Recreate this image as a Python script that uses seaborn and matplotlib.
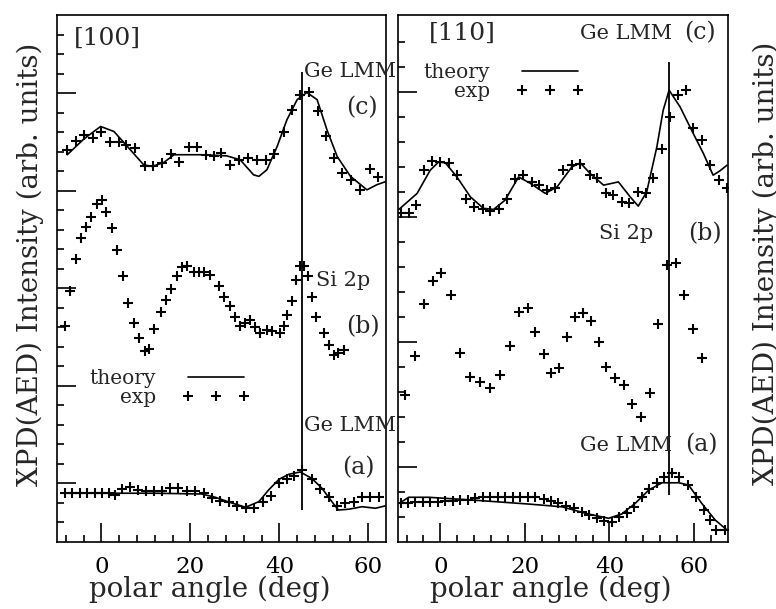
import matplotlib
matplotlib.use("Agg")
import matplotlib.pyplot as plt
import seaborn as sns
from matplotlib.lines import Line2D
from matplotlib.ticker import FixedLocator, NullFormatter

# ---- [100] azimuth (left panel) ----
ang_100_c_exp = [-7.7, -5.8, -4.0, -1.9, -0.1, 2.0, 3.9, 5.6, 7.6, 9.7, 11.6, 13.6, 15.7, 17.5,
                 19.6, 21.5, 23.4, 25.2, 26.9, 29.0, 30.9, 33.0, 35.0, 36.9, 38.9, 41.0, 42.8,
                 44.6, 46.6, 48.6, 50.6, 52.4, 54.2, 56.1, 58.1, 60.3, 62.1]
int_100_c_exp = [20.10, 20.53, 20.87, 20.70, 20.99, 20.48, 20.48, 20.36, 20.19, 19.28, 19.25,
                 19.42, 19.90, 19.47, 20.27, 20.24, 19.85, 19.76, 19.93, 19.30, 19.59, 19.68,
                 19.59, 19.59, 19.90, 21.04, 22.15, 22.92, 23.04, 22.07, 20.79, 19.68, 18.91,
                 18.56, 18.05, 19.11, 18.73]
ang_100_c_th = [-7.7, -4.0, -0.2, 2.8, 6.5, 9.5, 11.4, 14.0, 16.3, 22.2, 28.2, 31.2, 34.2, 35.4,
                37.2, 39.5, 41.7, 44.0, 46.2, 48.5, 50.7, 53.0, 56.0, 59.7, 61.9, 64.0]
int_100_c_th = [19.85, 20.65, 21.30, 21.04, 20.10, 19.33, 19.25, 19.45, 19.85, 19.85, 19.79,
                19.59, 18.82, 18.74, 19.08, 20.27, 21.64, 22.67, 23.04, 22.67, 21.13, 19.76,
                18.74, 18.05, 18.31, 18.48]

ang_100_b_exp = [-8.3, -7.0, -5.8, -4.7, -3.4, -2.4, -1.1, 0.15, 1.1, 2.4, 3.5, 4.9, 6.0, 7.3,
                 8.5, 9.7, 10.6, 11.9, 13.3, 14.4, 15.7, 16.9, 18.1, 19.3, 20.7, 21.9, 23.0,
                 24.5, 26.4, 27.6, 28.8, 30.1, 31.1, 32.2, 33.3, 34.6, 35.7, 37.2, 38.4, 40.1,
                 41.0, 41.7, 42.8, 43.8, 44.7, 45.5, 46.4, 47.3, 48.3, 50.0, 51.1, 52.2, 53.3, 54.5]
int_100_b_exp = [11.08, 12.84, 14.51, 15.57, 16.14, 16.65, 17.32, 17.54, 16.94, 16.09, 14.97,
                 13.61, 12.27, 11.21, 10.45, 9.81, 9.88, 10.91, 11.81, 12.41, 12.96, 13.61,
                 14.12, 14.15, 13.86, 13.86, 13.86, 13.69, 13.13, 12.58, 12.10, 11.52, 11.08,
                 11.21, 11.38, 11.04, 10.70, 10.87, 10.79, 10.70, 11.08, 11.64, 12.36, 13.44,
                 14.17, 14.17, 13.61, 12.58, 11.51, 10.70, 10.10, 9.59, 9.71, 9.85]

ang_100_a_exp = [-8.2, -6.6, -4.9, -3.2, -1.5, 0.15, 1.6, 3.0, 4.6, 6.5, 8.2, 10.0, 11.8, 13.6,
                 15.5, 17.2, 19.3, 21.1, 23.0, 24.9, 26.7, 28.6, 30.5, 32.4, 34.2, 36.3, 38.2,
                 39.9, 41.7, 43.4, 45.1, 47.3, 49.2, 51.1, 52.9, 54.8, 56.7, 58.6, 60.4, 62.3]
int_100_a_exp = [2.53, 2.53, 2.53, 2.53, 2.53, 2.53, 2.53, 2.41, 2.70, 2.84, 2.67, 2.63, 2.61,
                 2.63, 2.75, 2.75, 2.63, 2.63, 2.50, 2.24, 2.10, 2.07, 1.85, 1.73, 1.73, 2.07,
                 2.36, 3.04, 3.21, 3.38, 3.69, 3.21, 2.70, 2.33, 1.85, 1.98, 2.07, 2.29, 2.29, 2.29]
ang_100_a_th = [-8.2, 3.0, 12.0, 22.5, 25.5, 28.6, 32.4, 35.4, 37.6, 39.9, 42.1, 44.7, 47.3,
                49.6, 51.8, 53.3, 55.6, 58.6, 61.6, 63.8]
int_100_a_th = [2.50, 2.50, 2.50, 2.46, 2.30, 2.05, 1.78, 2.07, 2.67, 3.21, 3.47, 3.59, 3.26,
                2.75, 2.07, 1.64, 1.68, 1.81, 1.73, 1.85]

# ---- [110] azimuth (right panel) ----
ang_110_c_exp = [-9.4, -7.5, -5.7, -3.9, -2.0, 0.0, 2.0, 3.9, 6.1, 8.0, 10.1, 11.8, 13.8, 15.7,
                 17.7, 19.5, 21.7, 23.4, 25.2, 27.2, 29.1, 31.1, 33.1, 35.3, 37.0, 39.2, 40.9,
                 42.9, 44.7, 46.7, 48.6, 50.4, 52.3, 54.3, 56.3, 58.1, 59.8, 61.8, 63.8, 65.9, 67.8]
int_110_c_exp = [13.15, 13.17, 13.48, 14.88, 15.24, 15.21, 15.15, 14.68, 13.71, 13.41, 13.31,
                 13.25, 13.31, 13.71, 14.51, 14.68, 14.41, 14.28, 14.08, 14.15, 14.88, 15.08,
                 15.11, 14.68, 14.55, 13.95, 13.88, 13.61, 13.55, 14.01, 13.95, 14.55, 15.72,
                 17.01, 17.88, 18.08, 16.55, 16.08, 15.08, 14.48, 14.15]
ang_110_c_th = [-9.8, -5.5, -2.4, -0.4, 1.2, 3.9, 7.1, 10.2, 12.6, 15.3, 18.5, 21.3, 24.8, 27.6,
                31.1, 33.1, 35.4, 38.6, 42.1, 44.9, 46.8, 48.8, 51.2, 52.7, 54.1, 56.7, 59.8,
                62.2, 64.5, 66.1, 67.8]
int_110_c_th = [13.31, 13.95, 14.88, 15.21, 15.17, 14.61, 13.81, 13.35, 13.31, 13.68, 14.61,
                14.35, 13.95, 14.21, 15.01, 15.17, 14.75, 14.28, 14.41, 13.81, 13.44, 14.01,
                15.81, 17.28, 18.08, 17.41, 16.35, 15.55, 14.68, 14.85, 15.08]

ang_110_b_exp = [-8.3, -6.1, -3.9, -1.8, 0.2, 2.4, 4.7, 7.1, 9.4, 11.8, 14.2, 16.4, 18.7, 20.7,
                 22.4, 24.4, 26.2, 28.1, 29.9, 31.9, 33.7, 35.7, 37.4, 39.2, 41.3, 43.4, 45.4,
                 47.5, 49.6, 51.5, 53.5, 55.7, 57.7, 59.8, 61.8]
int_110_b_exp = [5.88, 7.44, 9.52, 10.45, 10.75, 9.88, 7.55, 6.61, 6.41, 6.15, 6.68, 7.84, 9.21,
                 9.35, 8.41, 7.52, 6.75, 6.95, 8.21, 8.99, 9.15, 8.85, 8.01, 7.01, 6.55, 6.28,
                 5.52, 5.01, 5.95, 8.72, 11.08, 11.15, 9.88, 8.51, 7.35]

ang_110_a_exp = [-9.4, -7.6, -5.9, -4.2, -2.4, -0.6, 1.2, 2.9, 4.7, 6.5, 8.3, 10.0, 11.8, 13.6,
                 15.3, 17.1, 18.9, 20.7, 22.4, 24.4, 26.2, 27.9, 29.7, 31.5, 33.5, 35.2, 37.0,
                 38.8, 40.5, 42.3, 44.1, 45.9, 47.6, 49.4, 51.2, 53.0, 54.7, 56.4, 58.5, 60.4,
                 62.4, 63.8, 65.3, 67.3]
int_110_a_exp = [1.55, 1.57, 1.61, 1.61, 1.61, 1.61, 1.64, 1.65, 1.68, 1.68, 1.75, 1.79, 1.81,
                 1.81, 1.81, 1.79, 1.79, 1.81, 1.79, 1.71, 1.65, 1.57, 1.44, 1.35, 1.21, 1.08,
                 0.95, 0.85, 0.81, 1.01, 1.17, 1.41, 1.81, 2.11, 2.35, 2.59, 2.75, 2.61, 2.28,
                 1.81, 1.28, 0.88, 0.48, 0.48]
ang_110_a_th = [-9.7, -7.5, -2.8, 7.5, 20.8, 28.7, 35.0, 39.8, 42.9, 46.1, 49.3, 52.4, 56.4,
                58.7, 61.8, 65.0, 68.0]
int_110_a_th = [1.55, 1.79, 1.79, 1.68, 1.52, 1.41, 1.12, 0.95, 1.12, 1.55, 2.08, 2.37, 2.37,
                2.28, 1.55, 0.88, 0.45]

# emission directions marked by vertical lines
dir_100 = 45.0
dir_110 = 54.0

ylabel = "XPD(AED) Intensity (arb. units)"
xlabel = "polar angle (deg)"

sns.set_style("ticks")
plt.rcParams["font.family"] = ["DejaVu Serif"]
plt.rcParams["axes.linewidth"] = 1.2

fig = plt.figure(figsize=(7.76, 6.09), dpi=100)
ax1 = fig.add_axes([0.0735, 0.110, 0.424, 0.865])
ax2 = fig.add_axes([0.513, 0.110, 0.425, 0.865])


def draw(ax, theory, exp):
    for a, v in theory:
        sns.lineplot(x=a, y=v, ax=ax, color="black", linewidth=1.2,
                     sort=False, estimator=None)
    for a, v in exp:
        sns.scatterplot(x=a, y=v, ax=ax, marker="+", color="black",
                        s=45, linewidth=1.5)


draw(ax1, [(ang_100_c_th, int_100_c_th), (ang_100_a_th, int_100_a_th)],
     [(ang_100_c_exp, int_100_c_exp), (ang_100_b_exp, int_100_b_exp),
      (ang_100_a_exp, int_100_a_exp)])
draw(ax2, [(ang_110_c_th, int_110_c_th), (ang_110_a_th, int_110_a_th)],
     [(ang_110_c_exp, int_110_c_exp), (ang_110_b_exp, int_110_b_exp),
      (ang_110_a_exp, int_110_a_exp)])

ax1.vlines(dir_100, 1.64, 24.1, color="black", linewidth=1.3)
ax2.vlines(dir_110, 1.88, 19.2, color="black", linewidth=1.3)

ax1.set_xlim(-10, 64)
ax1.set_ylim(0, 27.0)
ax2.set_xlim(-10, 68)
ax2.set_ylim(0, 21.08)

for ax, xmax, ymaj, ymax in [(ax1, 64, [3, 8, 13, 18, 23], 27), (ax2, 68, [3, 8, 13, 18], 21)]:
    ax.xaxis.set_major_locator(FixedLocator([0, 20, 40, 60]))
    ax.xaxis.set_minor_locator(FixedLocator([t for t in range(-8, xmax, 4) if t % 20]))
    ax.yaxis.set_major_locator(FixedLocator(ymaj))
    ax.yaxis.set_minor_locator(FixedLocator([t for t in range(1, ymax) if t not in ymaj]))
    ax.yaxis.set_major_formatter(NullFormatter())
    ax.tick_params(which="both", direction="in", width=1.2, colors="black",
                   top=False, right=False)
    ax.tick_params(which="major", length=14, pad=10, labelsize=16.5)
    ax.tick_params(which="minor", length=5)
    ax.set_xlabel(xlabel, fontsize=20)
    ax.xaxis.set_label_coords(0.464, -0.064)
    ax.set_ylabel("")
    for s in ax.spines.values():
        s.set_visible(True)
        s.set_color("black")

ax1.set_ylabel(ylabel, fontsize=20)
ax1.yaxis.set_label_coords(-0.040, 0.528)

fs = 15
t = dict(transform=ax1.transAxes, fontsize=fs, va="center")
ax1.text(0.052, 0.956, "[100]", ha="left", **{**t, "fontsize": 18})
ax1.text(0.751, 0.894, "Ge LMM", ha="left", **t)
ax1.text(0.927, 0.825, "(c)", ha="center", **{**t, "fontsize": 17})
ax1.text(0.787, 0.497, "Si 2p", ha="left", **t)
ax1.text(0.930, 0.408, "(b)", ha="center", **{**t, "fontsize": 17})
ax1.text(0.751, 0.222, "Ge LMM", ha="left", **t)
ax1.text(0.915, 0.142, "(a)", ha="center", **{**t, "fontsize": 17})

t = dict(transform=ax2.transAxes, fontsize=fs, va="center")
ax2.text(0.194, 0.966, "[110]", ha="center", **{**t, "fontsize": 18})
ax2.text(0.552, 0.966, "Ge LMM", ha="left", **t)
ax2.text(0.915, 0.966, "(c)", ha="center", **{**t, "fontsize": 17})
ax2.text(0.609, 0.586, "Si 2p", ha="left", **t)
ax2.text(0.930, 0.586, "(b)", ha="center", **{**t, "fontsize": 17})
ax2.text(0.552, 0.184, "Ge LMM", ha="left", **t)
ax2.text(0.921, 0.184, "(a)", ha="center", **{**t, "fontsize": 17})

handles = [Line2D([], [], color="black", linewidth=1.2),
           Line2D([], [], color="black", linestyle="", marker="+", markersize=7,
                  markeredgewidth=1.5)]
for ax, pos in [(ax1, (0.343, 0.292)), (ax2, (0.321, 0.873))]:
    ax.legend(handles, ["theory", "exp"], loc="center", bbox_to_anchor=pos,
              frameon=False, markerfirst=False, numpoints=3, handlelength=3.4,
              handletextpad=1.3, labelspacing=0.0, fontsize=14.5)

# label of the neighbouring (cropped) panel
fig.text(0.987, 0.567, ylabel, rotation=90, ha="center", va="center",
         rotation_mode="anchor", fontsize=20)

fig.savefig("out.png", dpi=100)
